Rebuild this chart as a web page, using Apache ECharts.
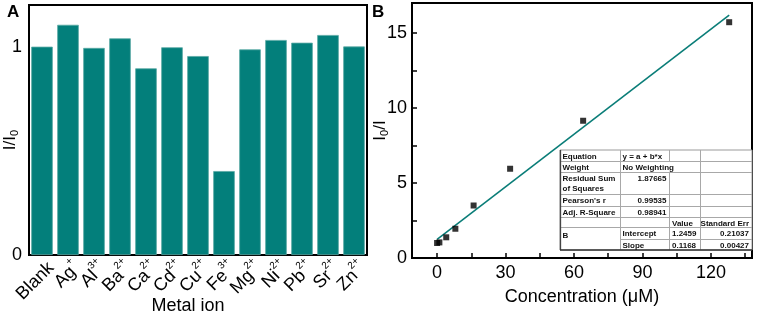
<!DOCTYPE html>
<html><head><meta charset="utf-8">
<script src="https://cdn.jsdelivr.net/npm/echarts@6/dist/echarts.min.js"></script>
<style>html,body{margin:0;padding:0;background:#fff}#c{width:760px;height:314px}</style>
</head><body><div id="c"></div>
<script>
// ---- Panel A data ----
const ions = ['Blank','Ag','Al','Ba','Ca','Cd','Cu','Fe','Mg','Ni','Pb','Sr','Zn'];
const charges = ['','+','3+','2+','2+','2+','2+','3+','2+','2+','2+','2+','2+'];
const ratioValues = [1.00,1.105,0.994,1.04,0.896,0.997,0.955,0.403,0.987,1.032,1.019,1.056,1.001];
const ratioTickValues = [0,0.5,1];
const ratioLabelValues = [0,1];
// ---- Panel B data ----
const concX = [0,1,4,8,16,32,64,128];
const concY = [1.0,1.04,1.38,1.95,3.5,5.95,9.15,15.72];
const fitX = [0,128];
const fitY = [1.2459,16.1963];
const concTickValues = [0,15,30,45,60,75,90,105,120,135];
const concLabelValues = [0,30,60,90,120];
const quenchTickValues = [0,2.5,5,7.5,10,12.5,15];
const quenchLabelValues = [0,5,10,15];
// ---- fit table text ----
const tableRows = [
  ['Equation','y = a + b*x','',''],
  ['Weight','No Weighting','',''],
  ['Residual Sum\nof Squares','1.87665','',''],
  ["Pearson's r",'0.99535','',''],
  ['Adj. R-Square','0.98941','',''],
  ['','','Value','Standard Err'],
  ['B','Intercept','1.2459','0.21037'],
  ['','Slope','0.1168','0.00427']
];

const FONT = 'Arial, "Liberation Sans", sans-serif';
const TEAL = '#037f7b';

const chart = echarts.init(document.getElementById('c'), null, {renderer:'canvas'});

// table geometry (layout only)
const colX = [560,620,669,700,752];
const rowY = [150,161,172,194,206,217,227,239,250];
const tableEls = [];
tableEls.push({type:'rect', shape:{x:colX[0],y:rowY[0],width:colX[4]-colX[0],height:rowY[8]-rowY[0]}, style:{fill:'#fff',stroke:'#9a9a9a',lineWidth:1}, z:100});
for (let r=1;r<8;r++){
  const x0 = (r===7)? colX[1] : colX[0];
  tableEls.push({type:'line', shape:{x1:x0,y1:rowY[r]+0.5,x2:colX[4],y2:rowY[r]+0.5}, style:{stroke:'#a8a8a8',lineWidth:1}, z:101});
}
for (let c=1;c<4;c++){
  for (let r=0;r<8;r++){
    if (c===2 && r===1) continue;
    tableEls.push({type:'line', shape:{x1:colX[c]+0.5,y1:rowY[r],x2:colX[c]+0.5,y2:rowY[r+1]}, style:{stroke:'#a8a8a8',lineWidth:1}, z:101});
  }
}
tableEls.push({type:'line', shape:{x1:colX[0]+0.5,y1:rowY[0],x2:colX[0]+0.5,y2:rowY[8]}, style:{stroke:'#444',lineWidth:1.3}, z:102});
tableEls.push({type:'line', shape:{x1:colX[0],y1:rowY[8],x2:colX[4],y2:rowY[8]}, style:{stroke:'#333',lineWidth:1.5}, z:102});
const tStyle = {fontFamily:FONT,fontSize:8,fill:'#111',fontWeight:'bold'};
tableRows.forEach((row,r)=>{
  row.forEach((txt,c)=>{
    if(!txt) return;
    let x, align='left';
    let y = rowY[r]+1.5;
    if (c===0){ x=colX[0]+2.5; }
    else if (c===1){
      if (/^[0-9.]+$/.test(txt)){ x=colX[2]-2.5; align='right'; }
      else x=colX[1]+2.5;
    }
    else if (c===2){ x=colX[2]+3; }
    else { x=colX[4]-3; align='right'; }
    if (r===6 && c===0){ y = rowY[6]+4; }
    tableEls.push({type:'text', x:x, y:y, z:103,
      style:Object.assign({}, tStyle, {text:txt, align:align, verticalAlign:'top', lineHeight:10})});
  });
});

const catLabels = ions.map((b,i)=> charges[i] ? '{b|'+b+'}{sup|'+charges[i]+'}' : '{b|'+b+'}');

const option = {
  animation:false,
  textStyle:{fontFamily:FONT},
  grid:[
    {left:29, top:5, width:338, height:250, show:true, borderColor:'#000', borderWidth:2, containLabel:false, outerBoundsMode:'none'},
    {left:412, top:3, width:340, height:255, show:true, borderColor:'#000', borderWidth:2, containLabel:false, outerBoundsMode:'none'}
  ],
  xAxis:[
    {type:'category', gridIndex:0, data:catLabels, boundaryGap:true,
      axisLine:{lineStyle:{color:'#000',width:2}},
      axisTick:{inside:true, alignWithLabel:true, length:4, lineStyle:{color:'#000',width:1.5}},
      axisLabel:{rotate:45, interval:0, margin:1, verticalAlign:'top', color:'#000', fontSize:18, fontFamily:FONT, hideOverlap:false,
        rich:{b:{fontSize:18, fontFamily:FONT, color:'#000', lineHeight:22, verticalAlign:'bottom'},
              sup:{fontSize:10, fontFamily:FONT, color:'#000', verticalAlign:'top', lineHeight:10}}},
      name:'Metal ion', nameLocation:'middle', nameGap:42, nameMoveOverlap:false,
      nameTextStyle:{fontSize:18, color:'#000', fontFamily:FONT, padding:[0,20,0,0]}
    },
    {type:'value', gridIndex:1, min:-11, max:138,
      axisLine:{onZero:false, lineStyle:{color:'#000',width:2}},
      axisTick:{inside:true, length:5, customValues:concTickValues, lineStyle:{color:'#000',width:1.5}},
      axisLabel:{customValues:concLabelValues, margin:6, color:'#000', fontSize:18, fontFamily:FONT},
      splitLine:{show:false},
      name:'Concentration (μM)', nameLocation:'middle', nameGap:30, nameMoveOverlap:false,
      nameTextStyle:{fontSize:18, color:'#000', fontFamily:FONT}
    }
  ],
  yAxis:[
    {type:'value', gridIndex:0, min:0, max:1.2,
      axisLine:{lineStyle:{color:'#000',width:2}},
      axisTick:{inside:true, length:5, customValues:ratioTickValues, lineStyle:{color:'#000',width:1.5}},
      axisLabel:{customValues:ratioLabelValues, margin:7, color:'#000', fontSize:18, fontFamily:FONT},
      splitLine:{show:false},
      name:'{b|I/I}{s|0}', nameLocation:'middle', nameGap:9, nameRotate:90, nameMoveOverlap:false,
      nameTextStyle:{padding:[0,20,0,0], rich:{b:{fontSize:17,fontFamily:FONT,color:'#000',lineHeight:18,verticalAlign:'top'}, s:{fontSize:11,fontFamily:FONT,color:'#000',verticalAlign:'bottom',lineHeight:11}}}
    },
    {type:'value', gridIndex:1, min:0, max:17,
      axisLine:{onZero:false, lineStyle:{color:'#000',width:2}},
      axisTick:{inside:true, length:5, customValues:quenchTickValues, lineStyle:{color:'#000',width:1.5}},
      axisLabel:{customValues:quenchLabelValues, margin:5, color:'#000', fontSize:18, fontFamily:FONT},
      splitLine:{show:false},
      name:'{b|I}{s|0}{b|/I}', nameLocation:'middle', nameGap:22, nameRotate:90, nameMoveOverlap:false,
      nameTextStyle:{rich:{b:{fontSize:17,fontFamily:FONT,color:'#000',lineHeight:18,verticalAlign:'top'}, s:{fontSize:11,fontFamily:FONT,color:'#000',verticalAlign:'bottom',lineHeight:11}}}
    }
  ],
  series:[
    {type:'bar', xAxisIndex:0, yAxisIndex:0, data:ratioValues, barCategoryGap:'17%',
      itemStyle:{color:TEAL, borderColor:'#5aa9a5', borderWidth:0.8}},
    {type:'line', xAxisIndex:1, yAxisIndex:1, data:fitX.map((x,i)=>[x,fitY[i]]),
      showSymbol:false, symbol:'none', lineStyle:{color:'#0a7d78', width:1.6}},
    {type:'scatter', xAxisIndex:1, yAxisIndex:1, data:concX.map((x,i)=>[x,concY[i]]),
      symbol:'rect', symbolSize:6, itemStyle:{color:'#000'}, z:5}
  ],
  graphic:[
    {type:'text', left:7, top:4, style:{text:'A', fontSize:17, fontWeight:'bold', fontFamily:FONT, fill:'#000'}},
    {type:'text', left:372, top:4, style:{text:'B', fontSize:17, fontWeight:'bold', fontFamily:FONT, fill:'#000'}},
    {type:'group', children:tableEls}
  ]
};
chart.setOption(option);
</script>
</body></html>
